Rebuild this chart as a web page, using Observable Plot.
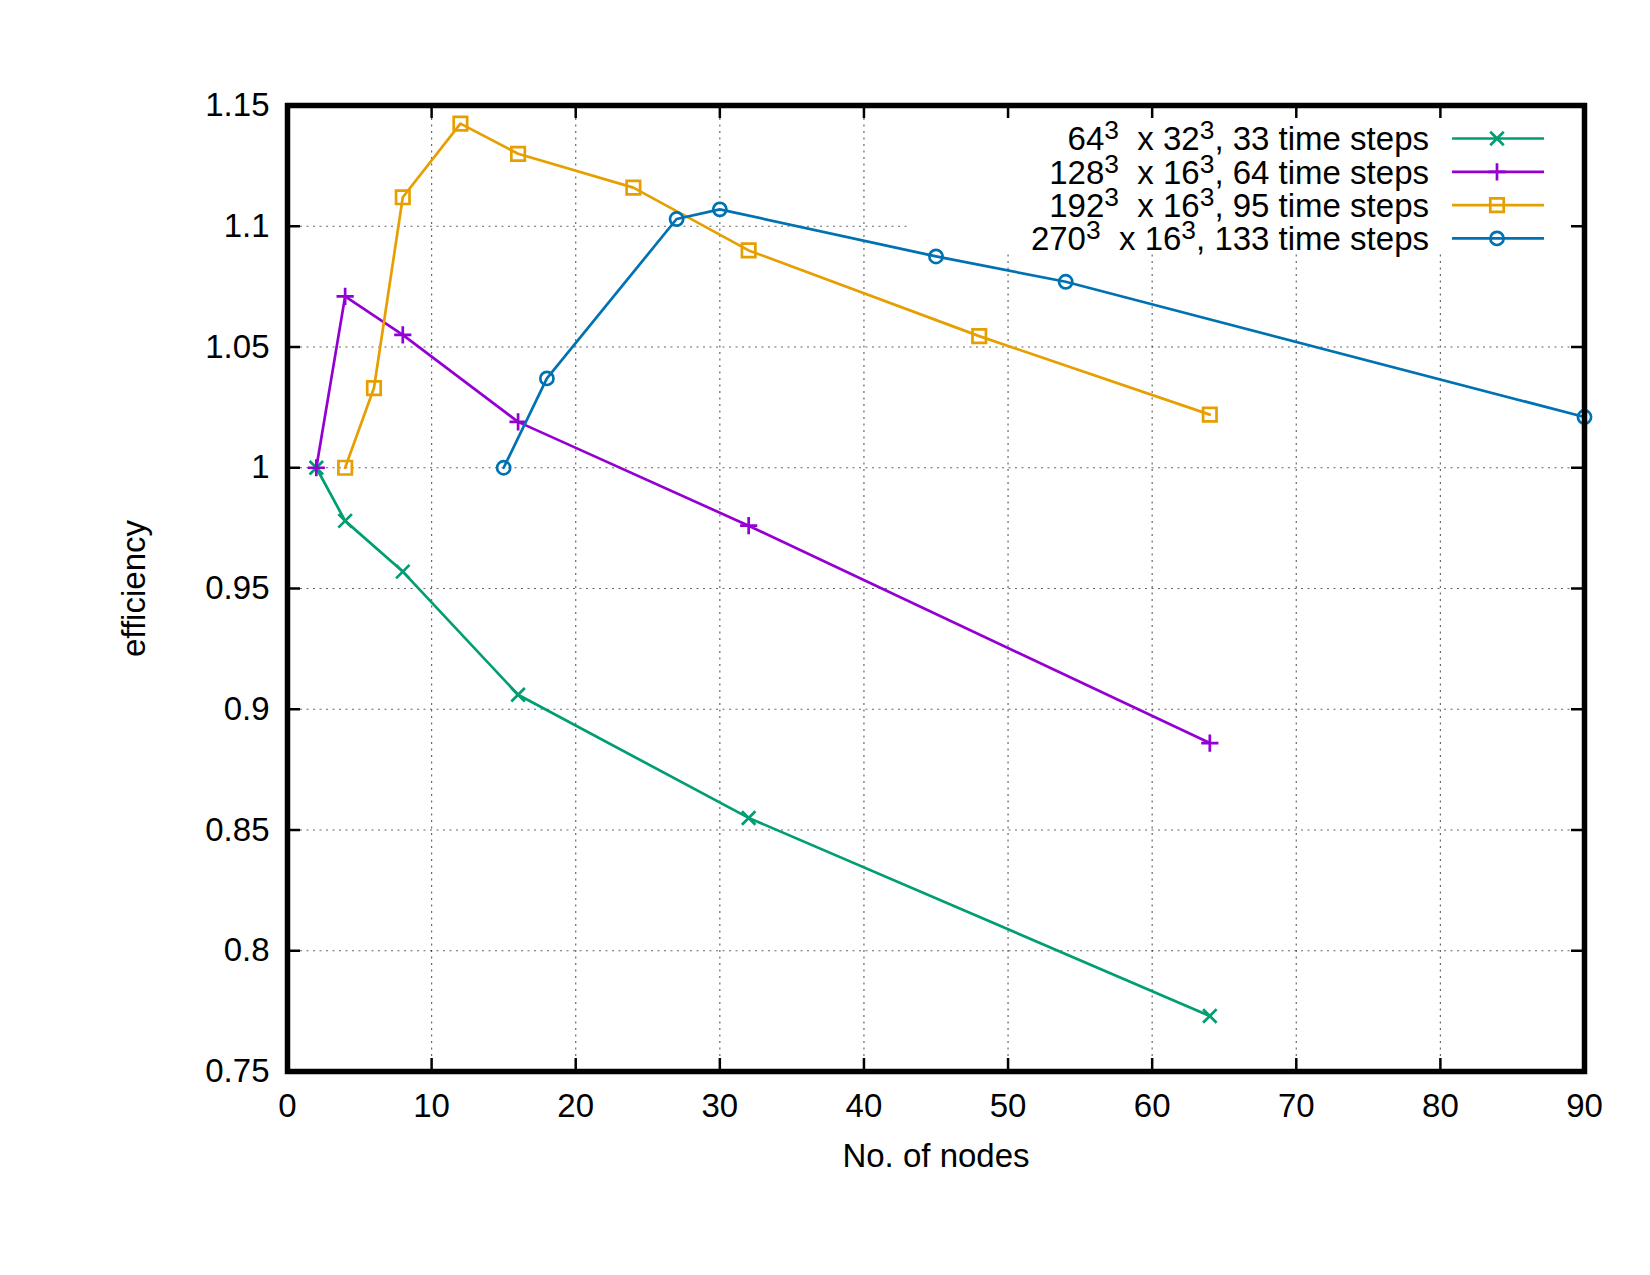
<!DOCTYPE html>
<html><head><meta charset="utf-8">
<script src="https://cdn.jsdelivr.net/npm/d3@7"></script>
<script src="https://cdn.jsdelivr.net/npm/@observablehq/plot@0.6"></script>
<style>
body{margin:0;background:#fff}
svg{font-family:"Liberation Sans",Arial,Helvetica,sans-serif}
</style>
</head><body><div id="chart"></div>
<script>
// ---- data ----
const nodesA = [2, 4, 8, 16, 32, 64];
const effA   = [1.0, 0.978, 0.957, 0.906, 0.855, 0.773];
const nodesB = [2, 4, 8, 16, 32, 64];
const effB   = [1.0, 1.071, 1.055, 1.019, 0.976, 0.886];
const nodesC = [4, 6, 8, 12, 16, 24, 32, 48, 64];
const effC   = [1.0, 1.033, 1.112, 1.1425, 1.13, 1.116, 1.09, 1.0545, 1.022];
const nodesD = [15, 18, 27, 30, 45, 54, 90];
const effD   = [1.0, 1.037, 1.103, 1.107, 1.0875, 1.077, 1.021];

const seriesNames = [
  "64^3  x 32^3, 33 time steps",
  "128^3  x 16^3, 64 time steps",
  "192^3  x 16^3, 95 time steps",
  "270^3  x 16^3, 133 time steps"
];
const seriesColors  = ["#009e73", "#9400d3", "#e69f00", "#0072b2"];
const seriesSymbols = ["times", "plus", "square", "circle"];
const seriesR       = [6.2, 5.6, 7.6, 6.6];

const xTicks = [0, 10, 20, 30, 40, 50, 60, 70, 80, 90];
const yTicks = [0.75, 0.8, 0.85, 0.9, 0.95, 1.0, 1.05, 1.1, 1.15];
const yTickLabels = ["0.75", "0.8", "0.85", "0.9", "0.95", "1", "1.05", "1.1", "1.15"];
const xLabel = "No. of nodes";
const yLabel = "efficiency";

// ---- build rows ----
const seriesData = [[nodesA, effA], [nodesB, effB], [nodesC, effC], [nodesD, effD]]
  .map(([xs, ys], i) => xs.map((x, j) => ({x, y: ys[j], s: seriesNames[i]})));

const W = 1650, H = 1275;
const mL = 287, mR = 66, mT = 105, mB = 204;
const innerW = W - mL - mR, innerH = H - mT - mB;
const tickLen = 13;
const FS = 33;

const xInner = xTicks.slice(1, -1);
const yInner = yTicks.slice(1, -1);

const symMap = {times: d3.symbolTimes, plus: d3.symbolPlus, square: d3.symbolSquare, circle: d3.symbolCircle};

// legend background (opaque key)
function legendBackground(index, scales, values, dims) {
  const g = d3.create("svg:g");
  const right = dims.width - dims.marginRight;
  g.append("rect")
    .attr("x", right - 674).attr("y", dims.marginTop)
    .attr("width", 674).attr("height", 148)
    .attr("fill", "#fff");
  return g.node();
}

function legend(index, scales, values, dims) {
  const g = d3.create("svg:g").attr("font-size", FS);
  const right = dims.width - dims.marginRight;
  const top = dims.marginTop;
  seriesNames.forEach((name, i) => {
    const cy = top + 33.5 + i * 33.3;
    const t = g.append("text")
      .attr("x", right - 155).attr("y", cy).attr("dy", "0.36em")
      .attr("text-anchor", "end").attr("fill", "#000")
      .style("white-space", "pre");
    const parts = name.split(/\^(\d)/);
    let sup = false;
    parts.forEach((p, k) => {
      if (k % 2 === 1) {
        t.append("tspan").attr("dy", -11).attr("font-size", FS * 0.8).text(p);
        sup = true;
      } else {
        const ts = t.append("tspan").text(p);
        if (sup) { ts.attr("dy", 11); sup = false; }
      }
    });
    g.append("line")
      .attr("x1", right - 132).attr("x2", right - 40)
      .attr("y1", cy).attr("y2", cy)
      .attr("stroke", seriesColors[i]).attr("stroke-width", 2.7);
    const r = seriesR[i];
    g.append("path")
      .attr("transform", `translate(${right - 87},${cy})`)
      .attr("d", d3.symbol(symMap[seriesSymbols[i]], r * r * Math.PI)())
      .attr("fill", "none").attr("stroke", seriesColors[i]).attr("stroke-width", 2.7);
  });
  return g.node();
}

const marks = [
  // dotted grid
  Plot.ruleX(xInner, {x: d => d, stroke: "#000", strokeOpacity: 0.6, strokeWidth: 1.2, strokeDasharray: "2,4.5"}),
  Plot.ruleY(yInner, {y: d => d, stroke: "#000", strokeOpacity: 0.6, strokeWidth: 1.2, strokeDasharray: "2,4.5"}),
  legendBackground,
  // inward ticks on all four sides
  Plot.ruleX(xInner, {x: d => d, insetTop: innerH - tickLen, stroke: "#000", strokeWidth: 2.5}),
  Plot.ruleX(xInner, {x: d => d, insetBottom: innerH - tickLen, stroke: "#000", strokeWidth: 2.5}),
  Plot.ruleY(yInner, {y: d => d, insetRight: innerW - tickLen, stroke: "#000", strokeWidth: 2.5}),
  Plot.ruleY(yInner, {y: d => d, insetLeft: innerW - tickLen, stroke: "#000", strokeWidth: 2.5}),
];
seriesData.forEach((rows, i) => {
  marks.push(Plot.line(rows, {x: "x", y: "y", stroke: seriesColors[i], strokeWidth: 2.7}));
  marks.push(Plot.dot(rows, {x: "x", y: "y", symbol: seriesSymbols[i], r: seriesR[i], stroke: seriesColors[i], fill: "none", strokeWidth: 2.7}));
});
marks.push(
  Plot.frame({stroke: "#000", strokeWidth: 5.5}),
  Plot.axisX(xTicks, {tickSize: 0, tickPadding: 22, fontSize: FS, label: null, fill: "#000"}),
  Plot.axisY(yTicks, {tickSize: 0, tickPadding: 18, fontSize: FS, label: null, fill: "#000",
    tickFormat: d => yTickLabels[yTicks.indexOf(d)]}),
  Plot.text([xLabel], {frameAnchor: "bottom", dy: 95, fontSize: FS, fill: "#000", text: d => d}),
  Plot.text([yLabel], {frameAnchor: "left", dx: -153, rotate: -90, textAnchor: "middle", fontSize: FS, fill: "#000", text: d => d}),
  legend
);

const chart = Plot.plot({
  width: W, height: H,
  marginLeft: mL, marginRight: mR, marginTop: mT, marginBottom: mB,
  style: {fontFamily: '"Liberation Sans", Arial, sans-serif', background: "#fff", overflow: "visible"},
  x: {domain: [0, 90], axis: null},
  y: {domain: [0.75, 1.15], axis: null},
  marks
});
document.getElementById("chart").appendChild(chart);
</script>
</body></html>
